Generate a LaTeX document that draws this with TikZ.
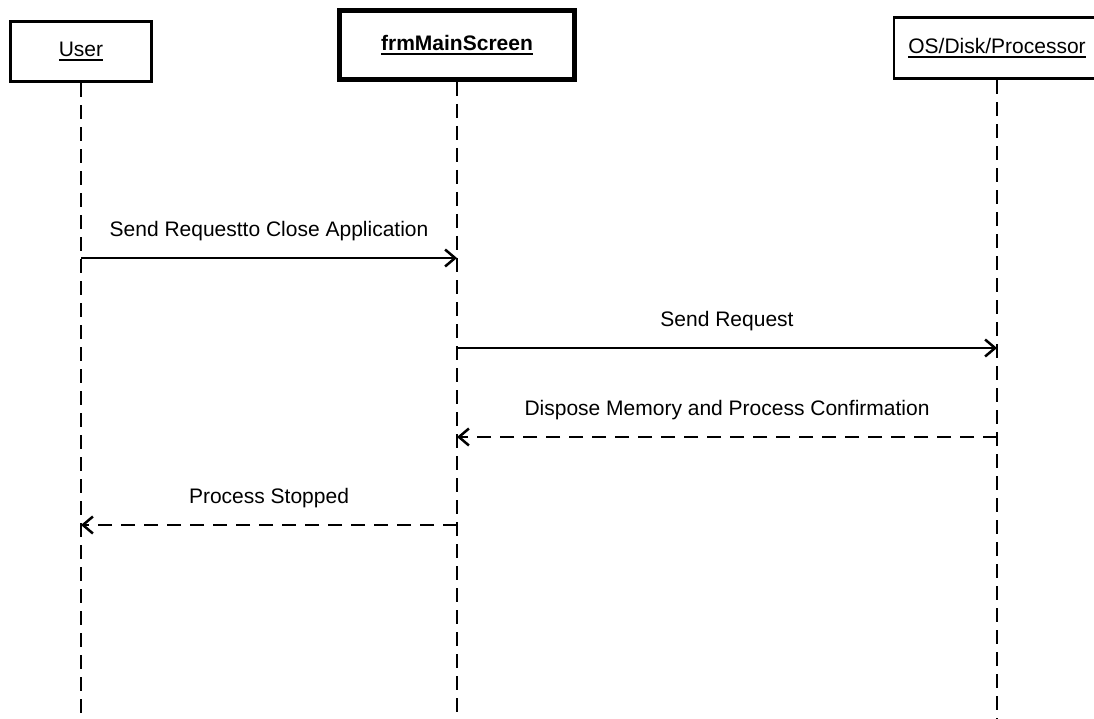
\documentclass[tikz,border=0pt]{standalone}
\usepackage{fontspec}
\setmainfont{Liberation Sans}
\usetikzlibrary{arrows.meta}
% underlined participant title with a heavier rule
\newcommand{\ulabel}[1]{\setbox0=\hbox{#1}\vtop{\copy0\kern1.8pt\hrule height1.9pt}}
\begin{document}
\begin{tikzpicture}[x=1pt,y=-1pt,
  actor/.style={draw, line width=2.6pt, fill=white, inner sep=0pt,
    font=\fontsize{21}{24}\selectfont},
  lifeline/.style={line width=2.8pt, dash pattern=on 14pt off 8pt},
  call/.style={line width=2.5pt,
    -{Straight Barb[length=10pt,width=17pt,line width=2.5pt]}},
  reply/.style={call, dash pattern=on 14pt off 9pt},
  msg/.style={midway, anchor=base, yshift=21.5pt,
    font=\fontsize{21}{24}\selectfont}
]
\useasboundingbox (0,0) rectangle (1094,719);
\clip (0,0) rectangle (1094,719);

% participants
\node[actor, minimum width=141.5pt, minimum height=60.5pt] (user) at (81,51.5)
  {\ulabel{User}};
\node[actor, line width=5pt, minimum width=235pt, minimum height=69pt]
  (main) at (457,45) {\ulabel{\bfseries frmMainScreen}};
\node[actor, minimum width=206pt, minimum height=61.5pt]
  (os) at (997,48) {\ulabel{OS/Disk/Processor}};

% lifelines
\coordinate (bottom) at (0,719);
\draw[lifeline] (user.south) -- (user.south |- bottom);
\draw[lifeline] (main.south) -- (main.south |- bottom);
\draw[lifeline] (os.south) -- (os.south |- bottom);

% message rows
\coordinate (y1) at (0,258);
\coordinate (y2) at (0,348);
\coordinate (y3) at (0,437);
\coordinate (y4) at (0,525);

\draw[call] (user |- y1) -- (main |- y1)
  node[msg] {Send Requestto Close Application};
\draw[call] (main |- y2) -- (os |- y2)
  node[msg] {Send Request};
\draw[reply] (os |- y3) -- (main |- y3)
  node[msg] {Dispose Memory and Process Confirmation};
\draw[reply] (main |- y4) -- (user |- y4)
  node[msg] {Process Stopped};
\end{tikzpicture}
\end{document}
